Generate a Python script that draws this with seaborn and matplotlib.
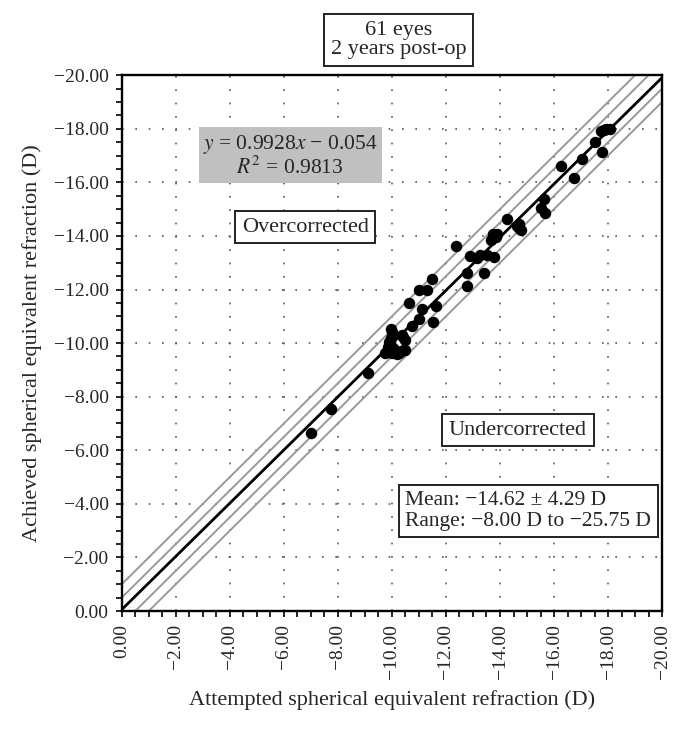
import numpy as np
import pandas as pd
import seaborn as sns
import matplotlib.pyplot as plt
from matplotlib.ticker import MultipleLocator

# attempted vs achieved spherical equivalent (D)
attempted = [-7.00, -7.74, -9.13, -9.76, -9.82, -9.94, -9.90, -10.01, -9.98, -10.01,
             -10.19, -10.25, -10.44, -10.50, -10.38, -10.50, -10.41, -10.75, -11.00, -11.13,
             -11.53, -11.64, -10.62, -11.00, -11.31, -11.50, -12.78, -12.76, -13.41, -12.36,
             -12.90, -13.16, -13.26, -13.53, -13.78, -13.65, -13.75, -13.90, -14.25, -14.62,
             -14.77, -14.71, -15.51, -15.66, -15.64, -16.25, -16.75, -17.02, -17.53, -17.76,
             -17.74, -17.92, -18.07, -9.85, -10.10, -13.85, -17.85, -10.35, -14.70, -9.95,
             -10.05]
achieved = [-6.63, -7.53, -8.89, -9.64, -9.68, -9.99, -10.05, -10.42, -10.51, -9.62,
            -9.59, -9.62, -9.76, -9.74, -10.30, -10.11, -10.24, -10.63, -10.89, -11.27,
            -10.78, -11.38, -11.50, -12.00, -11.99, -12.38, -12.13, -12.62, -12.63, -13.64,
            -13.26, -13.16, -13.28, -13.28, -13.22, -13.84, -14.09, -14.09, -14.63, -14.37,
            -14.22, -14.44, -15.03, -14.85, -15.37, -16.60, -16.17, -16.88, -17.50, -17.12,
            -17.91, -18.01, -18.01, -9.85, -9.70, -13.95, -17.95, -9.70, -14.30, -10.20,
            -9.80]

slope = 0.9928
intercept = -0.054
band_offsets = [-1.0, -0.5, 0.5, 1.0]
ticks = np.arange(0, -20.01, -2)
tick_labels = [f'{t:.2f}'.replace('-', '\u2212') if t != 0 else '0.00' for t in ticks]

sns.set_style("ticks")
plt.rcParams['font.family'] = ['Liberation Serif', 'DejaVu Serif']
plt.rcParams['mathtext.fontset'] = 'stix'

df = pd.DataFrame({'attempted': attempted, 'achieved': achieved})

fig, ax = plt.subplots(figsize=(6.84, 7.30), dpi=100)
fig.subplots_adjust(left=0.178, right=0.968, top=0.897, bottom=0.163)

x_line = np.array([0.0, -20.0])
for off in band_offsets:
    sns.lineplot(x=x_line, y=x_line + off, color='#999999', lw=1.4, ax=ax, zorder=2)
sns.lineplot(x=x_line, y=slope * x_line + intercept, color='black', lw=2, ax=ax, zorder=2)

sns.scatterplot(data=df, x='attempted', y='achieved', color='black', s=68,
                linewidth=0, zorder=3, ax=ax)

ax.set_xlim(0, -20)
ax.set_ylim(0, -20)
ax.set_xticks(ticks)
ax.set_xticklabels(tick_labels, rotation=90, fontsize=14)
ax.set_yticks(ticks)
ax.set_yticklabels(tick_labels, fontsize=14)
ax.xaxis.set_minor_locator(MultipleLocator(0.5))
ax.yaxis.set_minor_locator(MultipleLocator(0.5))
ax.tick_params(which='both', direction='out', length=4.5, width=1.2, color='black', pad=5)
ax.grid(which='major', color='#555555', linestyle=(0, (1, 7)), lw=1.2)
for s in ax.spines.values():
    s.set_visible(True)
    s.set_linewidth(1.7)
    s.set_color('black')

ax.set_xlabel('Attempted spherical equivalent refraction (D)', fontsize=16, labelpad=8)
ax.set_ylabel('Achieved spherical equivalent refraction (D)', fontsize=16, labelpad=8)

box = dict(boxstyle='square,pad=0.3', facecolor='white', edgecolor='#222222', lw=1.4)
fig.text(0.583, 0.945, '61 eyes\n2 years post-op', fontsize=16, ha='center', va='center',
         bbox=box, linespacing=1.0)
ax.text(-6.23, -16.98, '$y$ = 0.9928$x$ \u2212 0.054\n$R^2$ = 0.9813', fontsize=15.5,
        ha='center', va='center', linespacing=1.0,
        bbox=dict(boxstyle='square,pad=0.2', facecolor='#c0c0c0', edgecolor='none'), zorder=4)
ax.text(-6.79, -14.33, 'Overcorrected', fontsize=16, ha='center', va='center', bbox=box, zorder=4)
ax.text(-14.66, -6.75, 'Undercorrected', fontsize=16, ha='center', va='center', bbox=box, zorder=4)
ax.text(-10.5, -3.73, 'Mean: \u221214.62 \u00b1 4.29 D\nRange: \u22128.00 D to \u221225.75 D',
        fontsize=15.5, ha='left', va='center', bbox=box, linespacing=1.1, zorder=4)

plt.savefig('out.png', dpi=100)
